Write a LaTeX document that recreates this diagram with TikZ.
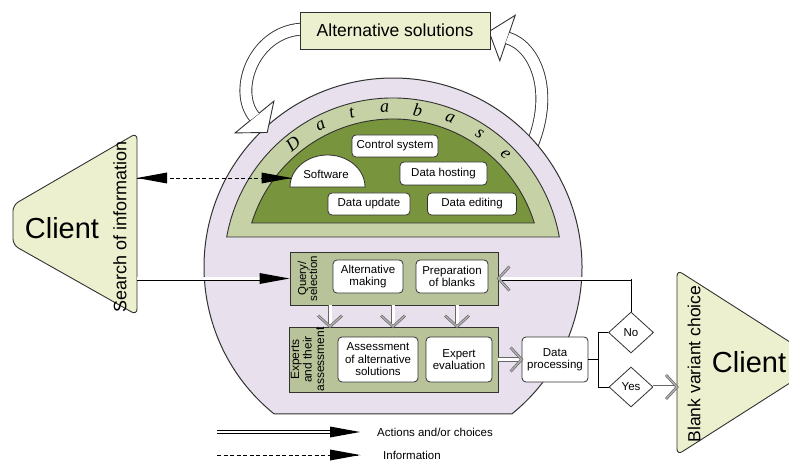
\documentclass[tikz,border=0pt]{standalone}
\usepackage{fontspec}
\setmainfont{Liberation Sans}
\newfontfamily\dbfont{Liberation Serif}
\usetikzlibrary{arrows.meta,calc,shapes.geometric}
\newcommand\myfs[1]{\fontsize{#1pt}{#1pt}\selectfont}
\newcommand\myfss[2]{\fontsize{#1pt}{#2pt}\selectfont}
\definecolor{purp}{RGB}{232,224,236}
\definecolor{lgreen}{RGB}{198,209,166}
\definecolor{dgreen}{RGB}{120,148,60}
\definecolor{pgreen}{RGB}{184,195,154}
\definecolor{pale}{RGB}{236,240,206}
\definecolor{edge}{RGB}{50,50,50}
\begin{document}
\begin{tikzpicture}[x=1pt,y=-1pt,
  wbox/.style={draw=edge, fill=white, rounded corners=4pt, line width=0.8pt, align=center, inner sep=1pt, font=\myfss{11.5}{12.5}},
  panel/.style={draw=edge, fill=pgreen, line width=0.9pt, inner sep=0pt},
  dia/.style={diamond, draw=edge, fill=white, line width=0.8pt, inner sep=0pt, font=\myfs{11.5}},
  dbl/.style={double=white, double distance=2.4pt, line width=0.8pt, draw=black},
  gdbl/.style={double=white, double distance=3pt, line width=0.9pt, draw=black!60},
  chev/.style={draw=black!60, double=black!30, double distance=1.3pt, line width=0.7pt, line join=miter},
  hollow/.style={double=white, double distance=11pt, line width=0.9pt, draw=edge},
  headst/.style={fill=white, draw=edge, line width=0.9pt, line join=miter},
  lbl/.style={align=center, inner sep=0pt}
]
\useasboundingbox (0,0) rectangle (789,462);
\fill[white] (0,0) rectangle (789,462);
\clip (0,0) rectangle (789,462);

% right curved arrow (behind the circle)
\draw[headst] (489,31.6) -- (515.2,15.3) -- (499.8,60.7) -- cycle;
\draw[hollow] (507.5,38) .. controls (535,46) and (556,92) .. (530,150);

% big purple circle
\draw[fill=purp, draw=edge, line width=1pt] (393,267) ++(128.98:189) arc[start angle=128.98, end angle=411.02, radius=189] -- cycle;

% left curved arrow
\draw[headst] (235.1,132.9) -- (267.2,132.5) -- (273.9,101.1) -- cycle;
\draw[hollow] (305,29) .. controls (255,29) and (232,90) .. (254.5,117);

% alternative solutions
\node[draw=edge, fill=pale, line width=0.9pt, minimum width=190pt, minimum height=37pt, inner sep=0pt, font=\myfs{17.5}] (alt) at (395,30.5) {Alternative solutions};

% database rings
\draw[fill=lgreen, draw=edge, line width=0.9pt] (393,267) ++(190.23:169) arc[start angle=190.23, end angle=349.77, radius=169] -- cycle;
\draw[fill=dgreen, draw=edge, line width=0.9pt] (393,267) ++(197.3:148) arc[start angle=197.3, end angle=342.7, radius=148] -- cycle;
\foreach \ch/\v in {D/129, a/117, t/105, a/93, b/81, a/69, s/57, e/45}
  \node[font=\dbfont\itshape\myfs{18}, inner sep=0pt, rotate=\v-90] at ($(393,267)+(-\v:159)$) {\ch};

% database boxes
\node[wbox, minimum width=86pt, minimum height=22pt] (ctrl) at (395,146) {Control system};
\node[wbox, minimum width=87pt, minimum height=23pt] (host) at (443.5,173.5) {Data hosting};
\node[wbox, minimum width=82pt, minimum height=22pt] (upd) at (369,204) {Data update};
\node[wbox, minimum width=89pt, minimum height=22pt] (edit) at (472,204) {Data editing};
\draw[fill=white, draw=edge, line width=0.8pt] (290,187) arc[start angle=180, end angle=360, x radius=37.5, y radius=32] -- cycle;
\node[lbl, font=\myfs{11.5}] (soft) at (326,174) {Software};
\coordinate (softL) at (291.5,178);

% panels
\node[panel, minimum width=208pt, minimum height=53pt] (q) at (394,278.5) {};
\node[panel, minimum width=209pt, minimum height=65pt] (e) at (393.5,359.5) {};
\node[lbl, rotate=90, font=\myfss{11.5}{11}] (qlab) at (307.5,278.5) {Query/\\selection};
\node[lbl, rotate=90, font=\myfss{12}{12.5}] (elab) at (307.5,359.5) {Experts\\and their\\assessment};
\node[wbox, minimum width=70pt, minimum height=33pt] (altm) at (368,276.5) {Alternative\\making};
\node[wbox, minimum width=72pt, minimum height=33pt] (prep) at (452,276.5) {Preparation\\of blanks};
\node[wbox, minimum width=80pt, minimum height=45pt] (ass) at (378,359.5) {Assessment\\of alternative\\solutions};
\node[wbox, minimum width=66pt, minimum height=45pt] (expe) at (459,359.5) {Expert\\evaluation};
\node[wbox, minimum width=66pt, minimum height=45pt] (dp) at (555,359.5) {Data\\processing};
\node[dia, minimum width=45pt, minimum height=41pt] (no) at (631,332.5) {No};
\node[dia, minimum width=44pt, minimum height=40pt] (yes) at (631,387) {Yes};

% clients
\draw[fill=pale, draw=edge, rounded corners=6pt, line width=0.9pt] (137,133) -- (13,205) -- (13,245) -- (137,315) -- cycle;
\node[lbl, font=\myfs{29}] (cl1) at (62,228) {Client};
\node[lbl, rotate=90, font=\myfs{18}] (sl1) at (120,227) {Search of information};
\coordinate (cLedge) at (137,224);
\draw[fill=pale, draw=edge, rounded corners=6pt, line width=0.9pt] (677,270) -- (822,362.5) -- (677,455) -- cycle;
\node[lbl, font=\myfs{29}] (cl2) at (749,362) {Client};
\node[lbl, rotate=90, font=\myfs{17.5}] (sl2) at (694,364) {Blank variant choice};
\coordinate (cRedge) at (677,363);

% down arrows
\foreach \xx in {330,393,457} {
  \draw[gdbl] (\xx,0 |- q.south) -- (\xx,0 |- e.north);
  \draw[chev] (\xx,0 |- e.north) ++(-12,-11) -- ++(12,11) -- ++(12,-11);
}
% experts -> data processing
\draw[gdbl] (e.east) -- (dp.west);
\draw[chev] (dp.west) ++(-11,-12) -- ++(11,12) -- ++(-11,12);
% branches
\coordinate (split) at ($(dp.east)+(10,0)$);
\draw[line width=0.8pt] (dp.east) -- (split);
\draw[line width=0.8pt] (no.west) -| (split) |- (yes.west);
% No -> preparation
\draw[line width=0.8pt] (no.north) -- (no.north |- q.east);
\draw[dbl] (no.north |- q.east) -- (q.east);
\draw[chev] (q.east) ++(11,-12) -- ++(-11,12) -- ++(11,12);
% Yes -> client
\draw[gdbl] (yes.east) -- (yes.east -| cRedge);
\draw[chev] (yes.east -| cRedge) ++(-11,-12) -- ++(11,12) -- ++(-11,12);

% client -> query
\draw[dbl, shorten >=26pt] (q.west -| cLedge) -- (q.west);
\fill[black] (q.west) -- ++(-30,-5.5) -- ++(0,11) -- cycle;
% dashed information link
\draw[line width=0.8pt, dash pattern=on 4pt off 2.5pt] (softL -| cLedge) -- (softL);
\fill[black] (softL) -- ++(-30,-5.5) -- ++(0,11) -- cycle;
\fill[black] (softL -| cLedge) -- ++(30,-5.5) -- ++(0,11) -- cycle;

% legend
\coordinate (l1a) at (217,432);
\coordinate (l1b) at (360,432);
\coordinate (l2a) at (217,455);
\coordinate (l2b) at (360,455);
\node[anchor=west, inner sep=0pt, font=\myfs{11.5}] (l1t) at (377,432) {Actions and/or choices};
\node[anchor=west, inner sep=0pt, font=\myfs{11.5}] (l2t) at (383,455) {Information};
\draw[dbl, shorten >=26pt] (l1a) -- (l1b);
\fill[black] (l1b) -- ++(-30,-5.5) -- ++(0,11) -- cycle;
\draw[line width=0.8pt, dash pattern=on 4pt off 2.5pt] (l2a) -- (l2b);
\fill[black] (l2b) -- ++(-30,-5.5) -- ++(0,11) -- cycle;
\end{tikzpicture}
\end{document}
